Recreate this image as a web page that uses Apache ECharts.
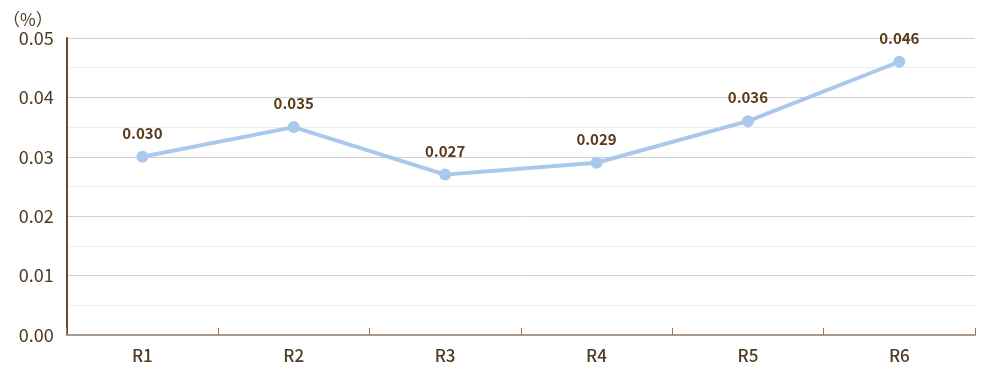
<!DOCTYPE html>
<html><head><meta charset="utf-8">
<script src="https://cdn.jsdelivr.net/npm/echarts@6/dist/echarts.min.js"></script>
<style>html,body{margin:0;padding:0;background:#fff}#c{width:1000px;height:380px}</style>
</head><body><div id="c"></div>
<script>
const categories = ['R1','R2','R3','R4','R5','R6'];
const values = [0.030, 0.035, 0.027, 0.029, 0.036, 0.046];
const yTicks = [0, 0.01, 0.02, 0.03, 0.04, 0.05];
const unitLabel = '（%）';

const font = '"Noto Sans CJK JP","Noto Sans",sans-serif';
const chart = echarts.init(document.getElementById('c'), null, {renderer:'canvas'});
chart.setOption({
  animation:false,
  grid:{left:66,right:25,top:38,bottom:45},
  xAxis:{
    type:'category', data:categories, boundaryGap:true,
    axisLine:{lineStyle:{color:'#a8998a',width:2}},
    axisTick:{show:true,inside:true,length:7,lineStyle:{color:'#8a7a6a'}},
    axisLabel:{color:'#4f3a22',fontSize:17,fontWeight:500,fontFamily:font,margin:12}
  },
  yAxis:{
    type:'value', min:yTicks[0], max:yTicks[yTicks.length-1], interval:0.01,
    name:unitLabel, nameLocation:'end', nameGap:10,
    nameTextStyle:{color:'#4f3a22',fontSize:17,fontFamily:font,align:'right',padding:[0,14,0,0]},
    axisLine:{show:true,lineStyle:{color:'#6b4a24',width:2}},
    axisTick:{show:false},
    axisLabel:{color:'#4f3a22',fontSize:18,fontFamily:font,margin:13,formatter:v=>v.toFixed(2)},
    splitLine:{lineStyle:{color:'#d0d0d0',width:1}},
    minorTick:{show:false,splitNumber:2},
    minorSplitLine:{show:true,lineStyle:{color:'#ececec',width:1}}
  },
  series:[{
    type:'line', data:values,
    lineStyle:{color:'#a9c8ec',width:4},
    itemStyle:{color:'#a9c8ec'},
    symbol:'circle', symbolSize:12,
    label:{show:true,position:'top',distance:10,color:'#5a3a18',fontSize:15,fontWeight:'bold',fontFamily:font,formatter:p=>p.value.toFixed(3)}
  }]
});
</script></body></html>
